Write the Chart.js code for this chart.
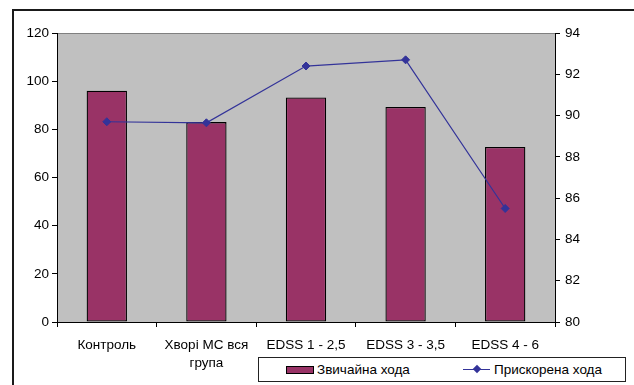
<!DOCTYPE html>
<html>
<head>
<meta charset="utf-8">
<script src="https://cdn.jsdelivr.net/npm/chart.js@4/dist/chart.umd.min.js"></script>
<style>
  html, body { margin: 0; padding: 0; background: #fff; overflow: hidden; }
  #wrap { position: relative; width: 634px; height: 385px; overflow: hidden; font-family: "Liberation Sans", Arial, sans-serif; }
  #frame { position: absolute; left: 12px; top: 9px; width: 622px; height: 376px; border-top: 2px solid #1a1a1a; border-left: 2px solid #1a1a1a; box-sizing: border-box; }
  canvas { position: absolute; left: 0; top: 0; }
  #legend { position: absolute; left: 258px; top: 357px; width: 368px; height: 25px; border: 1px solid #222; box-sizing: border-box; background: #fff; font-size: 13.5px; color: #000; }
  .item { position: absolute; top: 0; height: 23px; line-height: 23px; white-space: nowrap; }
  .swatch { position: absolute; top: 8px; width: 28px; height: 8px; background: #993366; border: 1px solid #000; box-sizing: border-box; }
  .lsym { position: absolute; top: 11px; width: 27px; height: 1px; background: #333399; }
  .dia { position: absolute; top: 8px; width: 6px; height: 6px; background: #333399; transform: rotate(45deg); }
</style>
</head>
<body>
<div id="wrap">
  <div id="frame"></div>
  <canvas id="c" width="634" height="385"></canvas>
  <div id="legend">
    <div class="swatch" style="left:27px"></div>
    <div class="item" style="left:58px" id="lg0"></div>
    <div class="lsym" style="left:204px"></div>
    <div class="dia" style="left:215px"></div>
    <div class="item" style="left:235px" id="lg1"></div>
  </div>
</div>
<script>
const categories = ["Контроль", ["Хворі МС вся", "група"], "EDSS 1 - 2,5", "EDSS 3 - 3,5", "EDSS 4 - 6"];
const seriesNames = ["Звичайна хода", "Прискорена хода"];
const normalGait = [96, 83, 93.2, 89.3, 72.7];
const fastGait = [89.7, 89.65, 92.4, 92.7, 85.5];
const leftTicks = { min: 0, max: 120, step: 20 };
const rightTicks = { min: 80, max: 94, step: 2 };

document.getElementById('lg0').textContent = seriesNames[0];
document.getElementById('lg1').textContent = seriesNames[1];

const FONT = { family: '"Liberation Sans", Arial, sans-serif', size: 13.5, lineHeight: 1.35 };

const bgPlugin = {
  id: 'bg',
  beforeDraw(chart) {
    const { ctx, chartArea: a } = chart;
    ctx.save();
    ctx.fillStyle = '#c0c0c0';
    ctx.fillRect(a.left, a.top, a.right - a.left, a.bottom - a.top);
    ctx.strokeStyle = '#808080';
    ctx.lineWidth = 1;
    ctx.beginPath();
    ctx.moveTo(a.left, a.top + 0.5);
    ctx.lineTo(a.right, a.top + 0.5);
    ctx.stroke();
    ctx.restore();
  }
};

new Chart(document.getElementById('c'), {
  data: {
    labels: categories,
    datasets: [
      {
        type: 'line',
        label: seriesNames[1],
        data: fastGait,
        yAxisID: 'y1',
        borderColor: '#333399',
        backgroundColor: '#333399',
        borderWidth: 1.2,
        pointStyle: 'rectRot',
        pointRadius: 4,
        pointBorderWidth: 1,
        tension: 0,
        order: 0
      },
      {
        type: 'bar',
        label: seriesNames[0],
        data: normalGait,
        yAxisID: 'y',
        backgroundColor: '#993366',
        borderColor: '#000',
        borderWidth: 1.3,
        borderSkipped: false,
        categoryPercentage: 1,
        barPercentage: 0.405,
        order: 1
      }
    ]
  },
  options: {
    responsive: false,
    animation: false,
    devicePixelRatio: 1,
    layout: { padding: { left: 0, right: 0, top: 33, bottom: 0 } },
    plugins: { legend: { display: false }, tooltip: { enabled: false } },
    scales: {
      x: {
        offset: true,
        grid: { display: true, drawOnChartArea: false, offset: true, tickLength: 5, color: '#000' },
        border: { display: true, color: '#000', width: 1 },
        ticks: { color: '#000', font: FONT, padding: 9, maxRotation: 0, autoSkip: false },
        afterFit(s) { s.height = 63; }
      },
      y: {
        position: 'left',
        min: leftTicks.min, max: leftTicks.max,
        grid: { display: true, drawOnChartArea: false, tickLength: 5, color: '#000' },
        border: { display: true, color: '#000', width: 1 },
        ticks: { stepSize: leftTicks.step, color: '#000', font: FONT, padding: 3 },
        afterFit(s) { s.width = 57; }
      },
      y1: {
        position: 'right',
        min: rightTicks.min, max: rightTicks.max,
        grid: { display: true, drawOnChartArea: false, tickLength: 5, color: '#000' },
        border: { display: true, color: '#000', width: 1 },
        ticks: { stepSize: rightTicks.step, color: '#000', font: FONT, padding: 5 },
        afterFit(s) { s.width = 79; }
      }
    }
  },
  plugins: [bgPlugin]
});
</script>
</body>
</html>
